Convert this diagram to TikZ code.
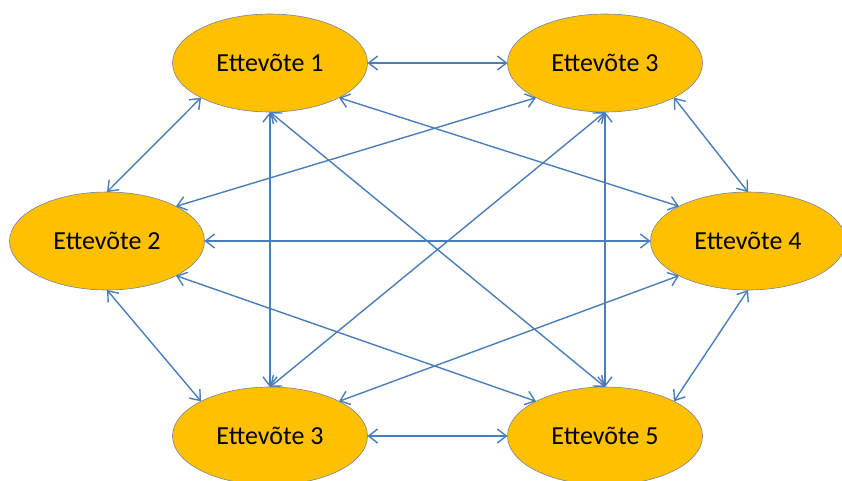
\documentclass[tikz,border=0pt]{standalone}
\usepackage{fontspec}
\setmainfont{Carlito}
\usetikzlibrary{shapes.geometric, arrows.meta}
\definecolor{firmgold}{RGB}{255,192,0}
\definecolor{firmedge}{RGB}{120,132,150}
\definecolor{linkblue}{RGB}{74,126,187}
\tikzstyle{firm}=[ellipse, draw=firmedge, line width=0.6pt, fill=firmgold, minimum width=195, minimum height=98, inner sep=0pt, outer sep=0pt, font=\fontsize{26}{30}\selectfont]
\tikzstyle{link}=[linkblue, line width=1.4pt, {Straight Barb[length=9pt,width=14pt]}-{Straight Barb[length=9pt,width=14pt]}]

\begin{document}
\begin{tikzpicture}[x=1pt, y=-1pt]
    \clip (0,0) rectangle (842,480);
% Firms
    \node[firm] (e1) at (270,63) {Ettevõte 1};
    \node[firm] (e3a) at (605,63) {Ettevõte 3};
    \node[firm] (e2) at (107,241) {Ettevõte 2};
    \node[firm] (e4) at (748,241) {Ettevõte 4};
    \node[firm] (e3b) at (270,436) {Ettevõte 3};
    \node[firm] (e5) at (605,436) {Ettevõte 5};
% Links from the top row
    \draw[link] (e1.east) -- (e3a.west);
    \draw[link] (e1.south west) -- (e2.north);
    \draw[link] (e1.south) -- (e3b.north);
    \draw[link] (e1.south) -- (e5.north);
    \draw[link] (e1.south east) -- (e4.north west);
    \draw[link] (e3a.south west) -- (e2.north east);
    \draw[link] (e3a.south) -- (e3b.north);
    \draw[link] (e3a.south) -- (e5.north);
    \draw[link] (e3a.south east) -- (e4.north);
% Links from the middle row
    \draw[link] (e2.east) -- (e4.west);
    \draw[link] (e2.south) -- (e3b.north west);
    \draw[link] (e2.south east) -- (e5.north west);
    \draw[link] (e4.south west) -- (e3b.north east);
    \draw[link] (e4.south) -- (e5.north east);
% Link on the bottom row
    \draw[link] (e3b.east) -- (e5.west);
\end{tikzpicture}
\end{document}
